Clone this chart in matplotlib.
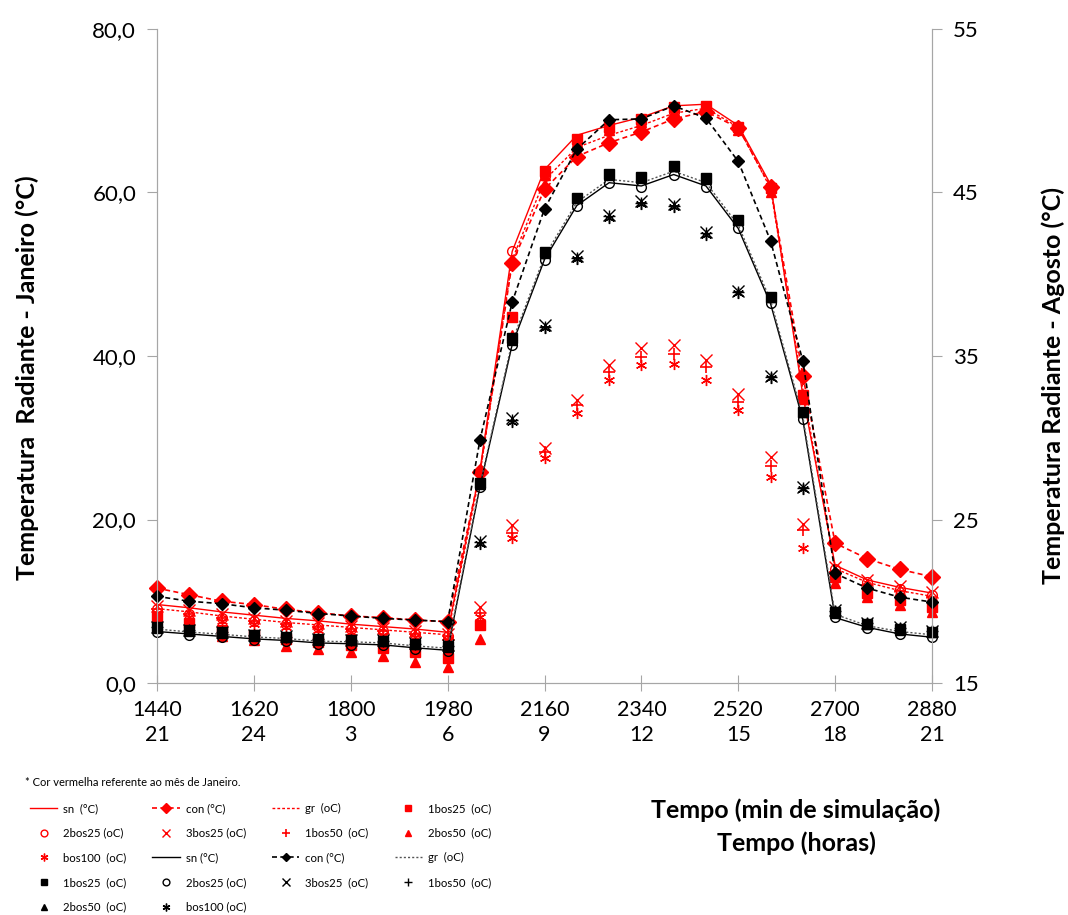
import numpy as np
import matplotlib
matplotlib.use("Agg")
import matplotlib.pyplot as plt

plt.rcParams['font.family'] = ['Lato', 'DejaVu Sans']

# minutes of simulation and hour labels
minutes = [1440, 1500, 1560, 1620, 1680, 1740, 1800, 1860, 1920, 1980, 2040, 2100, 2160,
           2220, 2280, 2340, 2400, 2460, 2520, 2580, 2640, 2700, 2760, 2820, 2880]
tick_min = [1440, 1620, 1800, 1980, 2160, 2340, 2520, 2700, 2880]
tick_hour = ["21", "24", "3", "6", "9", "12", "15", "18", "21"]

# janeiro (left axis, red)
jan_sn = [9.6, 9.2, 8.7, 8.3, 7.9, 7.6, 7.2, 6.9, 6.6, 6.2, 26.0, 52.8, 62.8, 67.0, 68.2,
          69.2, 70.6, 70.8, 68.2, 61.0, 35.2, 14.4, 12.6, 11.7, 11.0]
jan_con = [11.6, 10.8, 10.0, 9.6, 9.0, 8.6, 8.2, 8.0, 7.7, 7.5, 25.8, 51.4, 60.4, 64.4, 66.1,
           67.4, 69.0, 69.9, 67.9, 60.7, 37.6, 17.1, 15.2, 13.9, 13.0]
jan_gr = [9.1, 8.7, 8.2, 7.8, 7.4, 7.1, 6.8, 6.5, 6.2, 5.9, 25.5, 51.8, 61.5, 65.5, 67.0,
          68.2, 69.7, 70.3, 68.0, 60.5, 36.0, 14.0, 12.3, 11.3, 10.6]
jan_1bos25 = [8.1, 7.3, 6.5, 5.9, 5.4, 5.0, 4.7, 4.3, 3.8, 3.0, 7.1, 44.8, 62.6, 66.6, 68.0,
              69.0, 70.4, 70.6, 68.0, 60.5, 35.2, 13.0, 11.0, 10.2, 9.3]
jan_2bos25 = [9.0, 8.5, 8.0, 7.6, 7.2, 6.9, 6.6, 6.3, 6.0, 5.7, 25.8, 52.8, 62.0, 66.0, 67.5,
              68.5, 69.8, 70.0, 67.8, 60.3, 34.8, 14.0, 12.4, 11.5, 10.8]
jan_3bos25 = [9.4, 8.9, 8.4, 8.0, 7.6, 7.3, 7.0, 6.7, 6.4, 6.0, 9.3, 19.3, 28.7, 34.6, 38.9,
              41.0, 41.3, 39.5, 35.4, 27.6, 19.4, 14.2, 12.6, 11.9, 11.1]
jan_1bos50 = [9.0, 8.5, 8.0, 7.6, 7.2, 6.9, 6.6, 6.3, 6.0, 5.7, 8.6, 18.4, 28.3, 34.0, 38.1,
              39.9, 40.3, 38.7, 34.4, 26.5, 18.7, 13.6, 12.0, 11.2, 10.5]
jan_2bos50 = [7.6, 6.6, 5.8, 5.2, 4.5, 4.2, 3.8, 3.3, 2.6, 2.0, 5.4, 42.6, 62.2, 66.2, 67.6,
              68.6, 70.0, 70.2, 67.6, 60.0, 34.8, 12.2, 10.5, 9.5, 8.7]
jan_bos100 = [8.6, 8.1, 7.6, 7.2, 6.8, 6.5, 6.2, 5.9, 5.6, 5.3, 8.1, 17.7, 27.5, 33.0, 37.1,
              38.9, 39.0, 37.1, 33.4, 25.2, 16.5, 13.0, 11.4, 10.6, 9.9]

# agosto (right axis, black)
ago_sn = [18.15, 18.0, 17.85, 17.7, 17.6, 17.45, 17.4, 17.33, 17.15, 17.0, 27.0, 35.7, 40.9,
          44.2, 45.6, 45.4, 46.1, 45.4, 42.8, 38.2, 31.1, 19.0, 18.4, 18.0, 17.8]
ago_con = [20.3, 20.0, 19.85, 19.6, 19.45, 19.25, 19.1, 18.95, 18.85, 18.75, 29.85, 38.3, 44.0,
           47.65, 49.45, 49.5, 50.3, 49.55, 46.9, 42.05, 34.7, 21.7, 20.8, 20.25, 19.95]
ago_gr = [18.3, 18.12, 17.98, 17.82, 17.72, 17.56, 17.52, 17.45, 17.27, 17.13, 27.1, 35.9, 41.1,
          44.4, 45.8, 45.6, 46.3, 45.6, 43.0, 38.4, 31.3, 19.2, 18.5, 18.15, 17.95]
ago_1bos25 = [18.41, 18.24, 18.1, 17.94, 17.83, 17.67, 17.63, 17.57, 17.39, 17.26, 27.25, 36.08,
              41.34, 44.69, 46.13, 45.93, 46.62, 45.86, 43.32, 38.61, 31.59, 19.36, 18.61, 18.3, 18.12]
ago_2bos25 = [18.1, 17.95, 17.8, 17.65, 17.55, 17.4, 17.35, 17.3, 17.1, 16.95, 27.0, 35.67,
              40.87, 44.17, 45.56, 45.36, 46.07, 45.36, 42.81, 38.24, 31.12, 19.02, 18.36, 18.0, 17.81]
ago_3bos25 = [18.45, 18.27, 18.12, 17.96, 17.85, 17.7, 17.65, 17.6, 17.42, 17.3, 23.7, 31.2,
              36.9, 41.1, 43.65, 44.45, 44.3, 42.6, 39.0, 33.8, 27.0, 19.45, 18.7, 18.4, 18.2]
ago_1bos50 = [18.42, 18.25, 18.1, 17.94, 17.82, 17.67, 17.62, 17.57, 17.4, 17.27, 23.6, 31.1,
              36.8, 41.0, 43.55, 44.35, 44.2, 42.5, 38.9, 33.7, 26.95, 19.42, 18.68, 18.37, 18.17]
ago_2bos50 = [18.38, 18.2, 18.05, 17.9, 17.8, 17.64, 17.6, 17.54, 17.36, 17.22, 27.2, 36.0,
              41.3, 44.65, 46.1, 45.9, 46.6, 45.8, 43.3, 38.6, 31.55, 19.3, 18.58, 18.27, 18.1]
ago_bos100 = [18.4, 18.22, 18.08, 17.92, 17.8, 17.65, 17.6, 17.55, 17.37, 17.24, 23.5, 30.98,
              36.72, 40.93, 43.46, 44.28, 44.13, 42.4, 38.83, 33.64, 26.85, 19.4, 18.65, 18.35, 18.15]

star = (6, 2, 0)
gray = "#a6a6a6"

fig = plt.figure(figsize=(10.68, 9.15), dpi=100)
ax = fig.add_axes([157/1068, 1-683/915, (932-157)/1068, (683-29)/915])
ax2 = ax.twinx()

handles = []
def draw(a, y, label, color, ls="none", lw=1.0, marker=None, ms=6, mfc=None, mew=1.0):
    h, = a.plot(minutes, y, color=color, ls=ls, lw=lw, marker=marker, ms=ms,
                mfc=mfc if mfc else color, mec=color, mew=mew, label=label, clip_on=False)
    handles.append(h)

R = "#ff0000"
draw(ax, jan_sn, "sn  (°C)", R, ls="-", lw=1.0)
draw(ax, jan_con, "con (°C)", R, ls=(0, (3, 2)), lw=1.2, marker="D", ms=8)
draw(ax, jan_gr, "gr  (oC)", R, ls=(0, (2, 1.5)), lw=1.0)
draw(ax, jan_1bos25, "1bos25  (oC)", R, marker="s", ms=6.5)
draw(ax, jan_2bos25, "2bos25 (oC)", R, marker="o", ms=7, mfc="none")
draw(ax, jan_3bos25, "3bos25 (oC)", R, marker="x", ms=8, mew=1.0)
draw(ax, jan_1bos50, "1bos50  (oC)", R, marker="+", ms=9, mew=1.2)
draw(ax, jan_2bos50, "2bos50  (oC)", R, marker="^", ms=6.5)
draw(ax, jan_bos100, "bos100  (oC)", R, marker=star, ms=8, mew=1.0)

K = "#000000"
draw(ax2, ago_sn, "sn (°C)", K, ls="-", lw=1.0)
draw(ax2, ago_con, "con (°C)", K, ls=(0, (3, 2)), lw=1.2, marker="D", ms=6)
draw(ax2, ago_gr, "gr  (oC)", "#555555", ls=(0, (1.5, 1.5)), lw=1.0)
draw(ax2, ago_1bos25, "1bos25  (oC)", K, marker="s", ms=6.5)
draw(ax2, ago_2bos25, "2bos25 (oC)", K, marker="o", ms=7, mfc="none")
draw(ax2, ago_3bos25, "3bos25  (oC)", K, marker="x", ms=8, mew=1.0)
draw(ax2, ago_1bos50, "1bos50  (oC)", K, marker="+", ms=9, mew=1.0)
draw(ax2, ago_2bos50, "2bos50  (oC)", K, marker="^", ms=6.5)
draw(ax2, ago_bos100, "bos100 (oC)", K, marker=star, ms=8, mew=1.0)

ax.set_xlim(1440, 2880)
ax.set_ylim(0, 80)
ax2.set_ylim(15, 55)
ax.set_yticks([0, 20, 40, 60, 80])
ax.set_yticklabels(["0,0", "20,0", "40,0", "60,0", "80,0"])
ax2.set_yticks([15, 25, 35, 45, 55])
ax.set_xticks(tick_min)
ax.set_xticklabels([f"{m}\n{h}" for m, h in zip(tick_min, tick_hour)], linespacing=1.35)

for a in (ax, ax2):
    for s in a.spines.values():
        s.set_color(gray)
    a.spines['top'].set_visible(False)
ax.tick_params(axis='y', direction='out', length=7, color=gray, labelsize=16, pad=8)
ax2.tick_params(axis='y', direction='out', length=7, color=gray, labelsize=16, pad=8)
ax.tick_params(axis='x', direction='inout', length=12, color=gray, labelsize=15.5, pad=6)

fig.text(27/1068, 1-378/915, "Temperatura  Radiante - Janeiro (°C)", rotation=90,
         ha='center', va='center', fontsize=18, fontweight='bold')
fig.text(1053/1068, 1-385/915, "Temperatura Radiante - Agosto (°C)", rotation=90,
         ha='center', va='center', fontsize=18, fontweight='bold')
fig.text(796/1068, 1-810/915, "Tempo (min de simulação)", ha='center', va='center',
         fontsize=18, fontweight='bold')
fig.text(796/1068, 1-843/915, "Tempo (horas)", ha='center', va='center',
         fontsize=18, fontweight='bold')
fig.text(25/1068, 1-782/915, "* Cor vermelha referente ao mês de Janeiro.", ha='left',
         va='center', fontsize=8)

# legend filled row by row, 4 columns
order = [0, 4, 8, 12, 16, 1, 5, 9, 13, 17, 2, 6, 10, 14, 3, 7, 11, 15]
fig.legend([handles[i] for i in order], [handles[i].get_label() for i in order],
           loc='upper left', bbox_to_anchor=(30/1068, 1-803/915), ncol=4, frameon=False,
           fontsize=8.2, handlelength=2.4, handletextpad=0.5, columnspacing=2.3,
           labelspacing=1.2, borderpad=0, borderaxespad=0, numpoints=1, markerscale=0.7)

fig.savefig("out.png", dpi=100)
